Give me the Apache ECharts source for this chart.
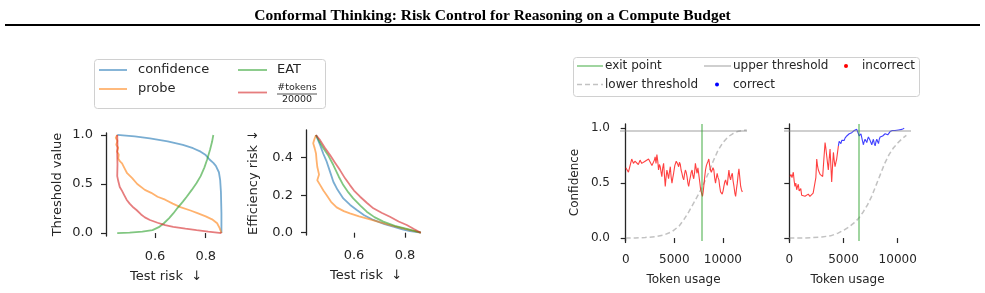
<!DOCTYPE html>
<html>
<head>
<meta charset="utf-8">
<script src="https://cdn.jsdelivr.net/npm/echarts@6/dist/echarts.min.js"></script>
<style>
  html, body { margin: 0; padding: 0; background: #fff; }
  #chart { width: 985px; height: 293px; }
</style>
</head>
<body>
<div id="chart"></div>
<script>
// ---- left: threshold value vs test risk ----
const thrConfidence = [[0.451,1.0],[0.52,0.985],[0.58,0.965],[0.65,0.935],[0.71,0.898],[0.75,0.865],[0.78,0.83],[0.80,0.795],[0.815,0.75],[0.83,0.715],[0.84,0.685],[0.852,0.62],[0.857,0.54],[0.86,0.42],[0.862,0.2],[0.862,0.0]];
const thrProbe = [[0.451,1.0],[0.445,0.97],[0.452,0.94],[0.447,0.9],[0.455,0.87],[0.45,0.83],[0.457,0.8],[0.455,0.76],[0.462,0.73],[0.47,0.71],[0.48,0.66],[0.49,0.61],[0.51,0.56],[0.53,0.5],[0.56,0.44],[0.585,0.41],[0.61,0.37],[0.64,0.34],[0.67,0.30],[0.7,0.265],[0.74,0.23],[0.77,0.2],[0.8,0.17],[0.825,0.14],[0.845,0.1],[0.855,0.05],[0.862,0.0]];
const thrEAT = [[0.451,0.0],[0.5,0.005],[0.55,0.015],[0.59,0.03],[0.615,0.06],[0.635,0.1],[0.655,0.15],[0.672,0.2],[0.69,0.26],[0.71,0.32],[0.725,0.37],[0.745,0.44],[0.764,0.51],[0.78,0.58],[0.795,0.67],[0.805,0.745],[0.817,0.85],[0.825,0.93],[0.83,1.0]];
const thrTokens = [[0.451,1.0],[0.452,0.9],[0.451,0.8],[0.452,0.7],[0.451,0.58],[0.455,0.53],[0.461,0.47],[0.47,0.43],[0.478,0.39],[0.488,0.34],[0.5,0.3],[0.515,0.26],[0.527,0.235],[0.545,0.19],[0.56,0.16],[0.58,0.133],[0.61,0.105],[0.64,0.08],[0.672,0.064],[0.72,0.045],[0.764,0.03],[0.81,0.015],[0.862,0.0]];

// ---- left: efficiency risk vs test risk ----
const effConfidence = [[0.451,0.521],[0.467,0.468],[0.48,0.42],[0.493,0.379],[0.505,0.33],[0.519,0.272],[0.535,0.23],[0.558,0.183],[0.585,0.148],[0.611,0.121],[0.64,0.093],[0.676,0.068],[0.72,0.046],[0.754,0.032],[0.79,0.018],[0.82,0.009],[0.862,0.0]];
const effProbe = [[0.451,0.521],[0.445,0.5],[0.44,0.477],[0.446,0.45],[0.451,0.423],[0.453,0.39],[0.456,0.352],[0.463,0.31],[0.456,0.28],[0.467,0.255],[0.48,0.225],[0.493,0.2],[0.51,0.165],[0.532,0.135],[0.56,0.115],[0.584,0.103],[0.62,0.087],[0.663,0.071],[0.7,0.056],[0.741,0.041],[0.8,0.02],[0.862,0.0]];
const effEAT = [[0.451,0.521],[0.465,0.485],[0.48,0.45],[0.5,0.41],[0.519,0.361],[0.54,0.30],[0.558,0.254],[0.578,0.215],[0.597,0.183],[0.625,0.145],[0.65,0.112],[0.68,0.083],[0.715,0.059],[0.76,0.037],[0.807,0.02],[0.862,0.0]];
const effTokens = [[0.451,0.521],[0.467,0.494],[0.485,0.455],[0.506,0.414],[0.525,0.375],[0.545,0.334],[0.565,0.29],[0.584,0.254],[0.6,0.225],[0.624,0.192],[0.65,0.16],[0.676,0.13],[0.71,0.105],[0.741,0.085],[0.775,0.06],[0.807,0.041],[0.835,0.02],[0.862,0.0]];

// ---- right: confidence traces over token usage ----
const trace1Incorrect = [[0,0.64],[150,0.62],[280,0.60],[450,0.66],[620,0.72],[800,0.68],[950,0.70],[1140,0.69],[1300,0.67],[1480,0.71],[1650,0.68],[1830,0.68],[2000,0.70],[2170,0.69],[2350,0.72],[2520,0.71],[2700,0.66],[2860,0.65],[2950,0.71],[3030,0.74],[3120,0.68],[3210,0.76],[3300,0.70],[3380,0.62],[3470,0.67],[3550,0.65],[3640,0.60],[3720,0.56],[3810,0.64],[3900,0.68],[3980,0.58],[4070,0.47],[4150,0.55],[4240,0.62],[4330,0.58],[4410,0.54],[4500,0.60],[4590,0.65],[4670,0.56],[4760,0.50],[4850,0.55],[4930,0.59],[5050,0.66],[5200,0.70],[5320,0.68],[5450,0.65],[5530,0.69],[5620,0.67],[5700,0.62],[5790,0.59],[5880,0.55],[5970,0.53],[6050,0.58],[6140,0.62],[6220,0.60],[6310,0.56],[6400,0.50],[6480,0.47],[6570,0.52],[6660,0.56],[6740,0.60],[6830,0.62],[6910,0.57],[7000,0.54],[7090,0.60],[7170,0.68],[7260,0.63],[7340,0.59],[7430,0.64],[7520,0.65],[7620,0.51],[7700,0.45],[7760,0.44],[7830,0.40],[7900,0.38],[7970,0.42],[8030,0.47],[8120,0.55],[8210,0.62],[8300,0.66],[8380,0.68],[8470,0.70],[8550,0.72],[8640,0.66],[8720,0.62],[8810,0.60],[8900,0.59],[8980,0.64],[9070,0.62],[9150,0.55],[9240,0.50],[9330,0.55],[9410,0.59],[9500,0.55],[9590,0.53],[9670,0.47],[9760,0.42],[9840,0.41],[9930,0.40],[10020,0.43],[10100,0.47],[10190,0.51],[10280,0.53],[10360,0.50],[10450,0.48],[10530,0.55],[10620,0.62],[10700,0.56],[10790,0.53],[10880,0.57],[10970,0.59],[11050,0.52],[11140,0.47],[11230,0.41],[11310,0.38],[11400,0.45],[11480,0.50],[11570,0.58],[11650,0.63],[11740,0.55],[11830,0.47],[11910,0.44],[12000,0.42]];
const trace2Incorrect = [[60,0.56],[150,0.58],[250,0.55],[370,0.60],[450,0.52],[520,0.47],[600,0.50],[680,0.44],[760,0.47],[830,0.49],[910,0.43],[990,0.42],[1060,0.45],[1140,0.39],[1220,0.40],[1300,0.38],[1450,0.38],[1600,0.39],[1750,0.40],[1900,0.38],[2060,0.39],[2200,0.41],[2370,0.41],[2450,0.55],[2530,0.72],[2600,0.66],[2680,0.62],[2760,0.60],[2840,0.58],[2960,0.58],[3080,0.56],[3190,0.72],[3300,0.87],[3370,0.82],[3450,0.75],[3530,0.68],[3600,0.62],[3680,0.72],[3760,0.81],[3840,0.65],[3910,0.51],[3990,0.66],[4070,0.78],[4150,0.70],[4220,0.65],[4300,0.69],[4370,0.72],[4450,0.78],[4530,0.84]];
const trace2Correct = [[4530,0.84],[4600,0.88],[4680,0.87],[4760,0.86],[4840,0.89],[4910,0.88],[4990,0.90],[5070,0.89],[5140,0.91],[5220,0.92],[5300,0.93],[5380,0.92],[5450,0.94],[5530,0.95],[5610,0.96],[5680,0.95],[5760,0.96],[5840,0.97],[5910,0.97],[5990,0.98],[6070,0.98],[6150,0.98],[6220,0.99],[6300,0.97],[6380,0.96],[6450,0.93],[6530,0.92],[6610,0.95],[6680,0.94],[6760,0.88],[6840,0.85],[6910,0.88],[6990,0.90],[7070,0.89],[7150,0.87],[7220,0.90],[7300,0.92],[7380,0.91],[7450,0.89],[7530,0.87],[7610,0.85],[7690,0.88],[7760,0.90],[7840,0.86],[7920,0.84],[8000,0.88],[8070,0.90],[8150,0.88],[8230,0.86],[8300,0.90],[8380,0.92],[8460,0.93],[8540,0.91],[8610,0.93],[8690,0.93],[8770,0.94],[8840,0.95],[8920,0.96],[9000,0.96],[9080,0.94],[9150,0.93],[9230,0.95],[9300,0.97],[9400,0.97],[9500,0.98],[9610,0.98],[9750,0.98],[9920,0.985],[10070,0.985],[10230,0.988],[10400,0.99],[10600,1.0]];
const lowerThr1 = [[0,0],[1000,0.0],[2000,0.005],[3000,0.012],[4000,0.03],[4800,0.06],[5500,0.11],[6000,0.17],[6500,0.24],[7000,0.32],[7500,0.40],[8000,0.49],[8500,0.59],[9000,0.70],[9500,0.80],[10000,0.87],[10500,0.92],[11000,0.95],[11500,0.97],[12000,0.98],[12450,0.985]];
const lowerThr2 = [[0,0],[1000,0],[2000,0.003],[3000,0.01],[3800,0.02],[4500,0.045],[5000,0.07],[5500,0.10],[6000,0.14],[6400,0.18],[6800,0.235],[7200,0.30],[7600,0.38],[8000,0.48],[8400,0.58],[8800,0.68],[9200,0.76],[9600,0.82],[10000,0.865],[10400,0.905],[10800,0.935]];
const upperThr = 0.98;
const exitTokens = [7810, 6430];

const riskTicks = [0.6, 0.8];
const thrTicks = [0, 0.5, 1.0];
const effTicks = [0, 0.2, 0.4];
const tokenTicks = [0, 5000, 10000];
const confTicks = [0, 0.5, 1.0];

const FONT = 'DejaVu Sans';
const INK = '#262626';
const C_BLUE = '#1f77b4', C_ORANGE = '#ff7f0e', C_GREEN = '#2ca02c', C_RED = '#d62728';

function xAx(grid, min, max, ticks, name, opts) {
  return {
    type: 'value', gridIndex: grid, min: min, max: max,
    offset: opts.offset,
    name: name, nameLocation: 'middle', nameGap: opts.nameGap,
    nameTextStyle: { fontFamily: FONT, fontSize: opts.fs, color: INK },
    axisLine: { show: false },
    axisTick: { show: true, length: 5, customValues: ticks, lineStyle: { color: INK, width: 1.2 } },
    axisLabel: { customValues: ticks, margin: opts.margin, fontFamily: FONT, fontSize: opts.fs, color: INK,
      formatter: opts.fmt },
    splitLine: { show: false }
  };
}
function yAx(grid, min, max, ticks, name, opts) {
  return {
    type: 'value', gridIndex: grid, min: min, max: max,
    name: name, nameLocation: 'middle', nameGap: opts.nameGap,
    nameTextStyle: { fontFamily: FONT, fontSize: opts.fs, color: INK },
    axisLine: { show: true, lineStyle: { color: INK, width: 1.3 } },
    axisTick: { show: true, length: 5, customValues: ticks, lineStyle: { color: INK, width: 1.2 } },
    axisLabel: { show: opts.labels !== false, customValues: ticks, margin: opts.margin, fontFamily: FONT, fontSize: opts.fs, color: INK,
      formatter: v => v.toFixed(1) },
    splitLine: { show: false }
  };
}
function curve(data, color, xi) {
  return { type: 'line', xAxisIndex: xi, yAxisIndex: xi, data: data, showSymbol: false, symbol: 'none',
    lineStyle: { color: color, width: 1.8, opacity: 0.6 }, silent: true };
}
function trace(data, color, xi) {
  return { type: 'line', xAxisIndex: xi, yAxisIndex: xi, data: data, showSymbol: false, symbol: 'none',
    lineStyle: { color: color, width: 1.1, opacity: 0.75 }, silent: true, z: 3 };
}
function lowerLine(data, xi, exitAt) {
  return { type: 'line', xAxisIndex: xi, yAxisIndex: xi, data: data, showSymbol: false, symbol: 'none',
    lineStyle: { color: '#9a9a9a', width: 1.5, type: [5, 3], opacity: 0.6 }, silent: true, z: 2,
    markLine: { symbol: 'none', silent: true, label: { show: false }, animation: false,
      data: [
        { yAxis: upperThr, lineStyle: { color: '#808080', type: 'solid', width: 1.5, opacity: 0.5 } },
        { xAxis: exitAt, lineStyle: { color: C_GREEN, type: 'solid', width: 1.5, opacity: 0.6 } }
      ] } };
}

const L = FONT;
const fmtTok = v => String(v);
const option = {
  animation: false,
  title: { text: 'Conformal Thinking: Risk Control for Reasoning on a Compute Budget', left: 'center', top: 3,
    textStyle: { fontFamily: 'Liberation Serif', fontWeight: 'bold', fontSize: 15.5, color: '#000' } },
  grid: [
    { left: 106, top: 133, width: 120, height: 103 },
    { left: 306, top: 130, width: 120, height: 105 },
    { left: 620, top: 124, width: 127, height: 117 },
    { left: 784, top: 124, width: 127, height: 117 }
  ],
  xAxis: [
    xAx(0, 0.4067, 0.880, riskTicks, 'Test risk  \u2193', { offset: 4, nameGap: 30, fs: 13, margin: 10, fmt: v => v.toFixed(1) }),
    xAx(1, 0.4118, 0.8824, riskTicks, 'Test risk  \u2193', { offset: 4, nameGap: 30, fs: 13, margin: 10, fmt: v => v.toFixed(1) }),
    xAx(2, -586, 12480, tokenTicks, 'Token usage', { offset: 2, nameGap: 31, fs: 12, margin: 11, fmt: fmtTok }),
    xAx(3, -489, 11227, tokenTicks, 'Token usage', { offset: 2, nameGap: 31, fs: 12, margin: 11, fmt: fmtTok })
  ],
  yAxis: [
    yAx(0, -0.03, 1.02, thrTicks, 'Threshold value', { nameGap: 42, fs: 13, margin: 13 }),
    yAx(1, -0.0123, 0.548, effTicks, 'Efficiency risk \u2193', { nameGap: 46, fs: 13, margin: 13 }),
    yAx(2, -0.027, 1.039, confTicks, 'Confidence', { nameGap: 39, fs: 12, margin: 10 }),
    yAx(3, -0.027, 1.039, confTicks, '', { nameGap: 39, fs: 12, margin: 10, labels: false })
  ],
  series: [
    curve(thrConfidence, C_BLUE, 0), curve(thrProbe, C_ORANGE, 0), curve(thrEAT, C_GREEN, 0), curve(thrTokens, C_RED, 0),
    curve(effConfidence, C_BLUE, 1), curve(effProbe, C_ORANGE, 1), curve(effEAT, C_GREEN, 1), curve(effTokens, C_RED, 1),
    lowerLine(lowerThr1, 2, exitTokens[0]), trace(trace1Incorrect, '#ff0000', 2),
    lowerLine(lowerThr2, 3, exitTokens[1]), trace(trace2Incorrect, '#ff0000', 3), trace(trace2Correct, '#0000ff', 3)
  ],
  graphic: [
    // rule under the title
    { type: 'line', shape: { x1: 5, y1: 25, x2: 980, y2: 25 }, style: { stroke: '#000', lineWidth: 2 } },
    // left legend
    { type: 'rect', shape: { x: 94.5, y: 59.5, width: 231, height: 49, r: 3 }, style: { fill: '#fff', stroke: '#d0d0d0', lineWidth: 1 } },
    { type: 'line', shape: { x1: 99, y1: 70, x2: 127, y2: 70 }, style: { stroke: C_BLUE, lineWidth: 1.8, opacity: 0.6 } },
    { type: 'text', x: 138, y: 70, style: { text: 'confidence', font: '13px ' + L, fill: INK, verticalAlign: 'middle' } },
    { type: 'line', shape: { x1: 99, y1: 89, x2: 127, y2: 89 }, style: { stroke: C_ORANGE, lineWidth: 1.8, opacity: 0.6 } },
    { type: 'text', x: 138, y: 89, style: { text: 'probe', font: '13px ' + L, fill: INK, verticalAlign: 'middle' } },
    { type: 'line', shape: { x1: 238, y1: 70, x2: 267, y2: 70 }, style: { stroke: C_GREEN, lineWidth: 1.8, opacity: 0.6 } },
    { type: 'text', x: 277, y: 70, style: { text: 'EAT', font: '13px ' + L, fill: INK, verticalAlign: 'middle' } },
    { type: 'line', shape: { x1: 238, y1: 92.5, x2: 267, y2: 92.5 }, style: { stroke: C_RED, lineWidth: 1.8, opacity: 0.6 } },
    { type: 'text', x: 297, y: 88, style: { text: '#tokens', font: '9.5px ' + L, fill: INK, align: 'center', verticalAlign: 'middle' } },
    { type: 'line', shape: { x1: 277, y1: 94, x2: 317, y2: 94 }, style: { stroke: INK, lineWidth: 0.8 } },
    { type: 'text', x: 297, y: 99.5, style: { text: '20000', font: '9.5px ' + L, fill: INK, align: 'center', verticalAlign: 'middle' } },
    // right legend
    { type: 'rect', shape: { x: 573.5, y: 57.5, width: 346, height: 39, r: 3 }, style: { fill: '#fff', stroke: '#d0d0d0', lineWidth: 1 } },
    { type: 'line', shape: { x1: 577, y1: 66, x2: 603, y2: 66 }, style: { stroke: C_GREEN, lineWidth: 1.5, opacity: 0.6 } },
    { type: 'text', x: 605, y: 66, style: { text: 'exit point', font: '12px ' + L, fill: INK, verticalAlign: 'middle' } },
    { type: 'line', shape: { x1: 704, y1: 66, x2: 731, y2: 66 }, style: { stroke: '#808080', lineWidth: 1.5, opacity: 0.5 } },
    { type: 'text', x: 733, y: 66, style: { text: 'upper threshold', font: '12px ' + L, fill: INK, verticalAlign: 'middle' } },
    { type: 'circle', shape: { cx: 846, cy: 66, r: 2 }, style: { fill: '#ff0000' } },
    { type: 'text', x: 862, y: 66, style: { text: 'incorrect', font: '12px ' + L, fill: INK, verticalAlign: 'middle' } },
    { type: 'line', shape: { x1: 577, y1: 84.5, x2: 603, y2: 84.5 }, style: { stroke: '#9a9a9a', lineWidth: 1.5, opacity: 0.6, lineDash: [5, 3] } },
    { type: 'text', x: 605, y: 84.5, style: { text: 'lower threshold', font: '12px ' + L, fill: INK, verticalAlign: 'middle' } },
    { type: 'circle', shape: { cx: 717, cy: 84.5, r: 2 }, style: { fill: '#0000ff' } },
    { type: 'text', x: 733, y: 84.5, style: { text: 'correct', font: '12px ' + L, fill: INK, verticalAlign: 'middle' } }
  ]
};

const chart = echarts.init(document.getElementById('chart'), null, { renderer: 'canvas' });
chart.setOption(option);
</script>
</body>
</html>
